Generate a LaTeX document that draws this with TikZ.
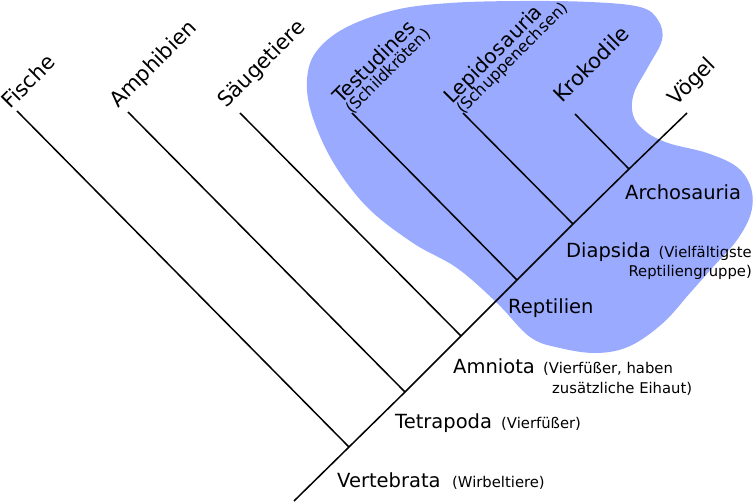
\documentclass[tikz,border=0pt]{standalone}
\usepackage{fontspec}
\setmainfont{DejaVu Sans}
\definecolor{blobcol}{RGB}{153,170,255}
\tikzset{
  big/.style={font=\fontsize{19.5}{22}\selectfont, inner sep=0pt, anchor=base west},
  small/.style={font=\fontsize{14.8}{17}\selectfont, inner sep=0pt, anchor=base west},
  rbig/.style={font=\fontsize{21}{24}\selectfont, inner sep=0pt, anchor=base west, rotate=45},
  rmid/.style={font=\fontsize{20.3}{24}\selectfont, inner sep=0pt, anchor=base west, rotate=45},
  rsmall/.style={font=\fontsize{16}{19}\selectfont, inner sep=0pt, anchor=base west, rotate=45},
  branch/.style={line width=1.5pt, black},
}
\begin{document}
\begin{tikzpicture}[x=1pt,y=-1pt]
\useasboundingbox (0,0) rectangle (753,503);
% blob
\fill[blobcol] plot[smooth cycle, tension=0.6] coordinates {
 (307,80) (316,52) (345,28) (395,10) (450,3) (520,1) (590,2) (640,7) (658,20)
 (662,40) (648,67) (634,93) (633,115) (645,131) (668,143) (707,153) (737,167)
 (751,188) (751,213) (737,240) (713,267) (690,293) (663,323) (630,346)
 (597,353) (560,348) (530,337) (497,303) (457,268) (413,243) (367,207)
 (333,162) (312,115)};
% coordinates
\coordinate (root) at (294,501);
\coordinate (j1) at (349,447);
\coordinate (j2) at (405,392);
\coordinate (j3) at (461,336);
\coordinate (j4) at (517,280);
\coordinate (j5) at (573,224);
\coordinate (j6) at (629,169);
\coordinate (tF) at (17,111);
\coordinate (tA) at (128,112);
\coordinate (tS) at (240,113);
\coordinate (tT) at (352,113);
\coordinate (tL) at (463,113);
\coordinate (tK) at (575,114);
\coordinate (tV) at (687,113);
% tree
\draw[branch] (root) -- (j1) -- (j2) -- (j3) -- (j4) -- (j5) -- (j6) -- (tV);
\draw[branch] (j1) -- (tF);
\draw[branch] (j2) -- (tA);
\draw[branch] (j3) -- (tS);
\draw[branch] (j4) -- (tT);
\draw[branch] (j5) -- (tL);
\draw[branch] (j6) -- (tK);
% rotated labels
\node[rbig] (lF) at (10.5,110) {Fische};
\node[rbig] (lA) at (118,109) {Amphibien};
\node[rbig] (lS) at (226,109) {Säugetiere};
\node[rmid] (lT) at (341,105) {Testudines};
\node[rsmall] (lT2) at (352,115) {(Schildkröten)};
\node[rmid] (lL) at (452,105) {Lepidosauria};
\node[rsmall] (lL2) at (463,115) {(Schuppenechsen)};
\node[rbig] (lK) at (562,104) {Krokodile};
\node[rbig] (lV) at (676,107) {Vögel};
% horizontal labels
\node[big] (nVe) at (337,487) {Vertebrata};
\node[small] (nVe2) at (452,487) {(Wirbeltiere)};
\node[big] (nTe) at (395,428) {Tetrapoda};
\node[small] (nTe2) at (501,428) {(Vierfüßer)};
\node[big] (nAm) at (453,373) {Amniota};
\node[small] (nAm2) at (543,373) {(Vierfüßer, haben};
\node[small] (nAm3) at (552,393) {zusätzliche Eihaut)};
\node[big] (nRe) at (508,313) {Reptilien};
\node[big] (nDi) at (566,257) {Diapsida};
\node[small, anchor=base east] (nDi2) at (752,257) {(Vielfältigste};
\node[small, anchor=base east] (nDi3) at (752,276) {Reptiliengruppe)};
\node[big] (nAr) at (625,199) {Archosauria};
\end{tikzpicture}
\end{document}
